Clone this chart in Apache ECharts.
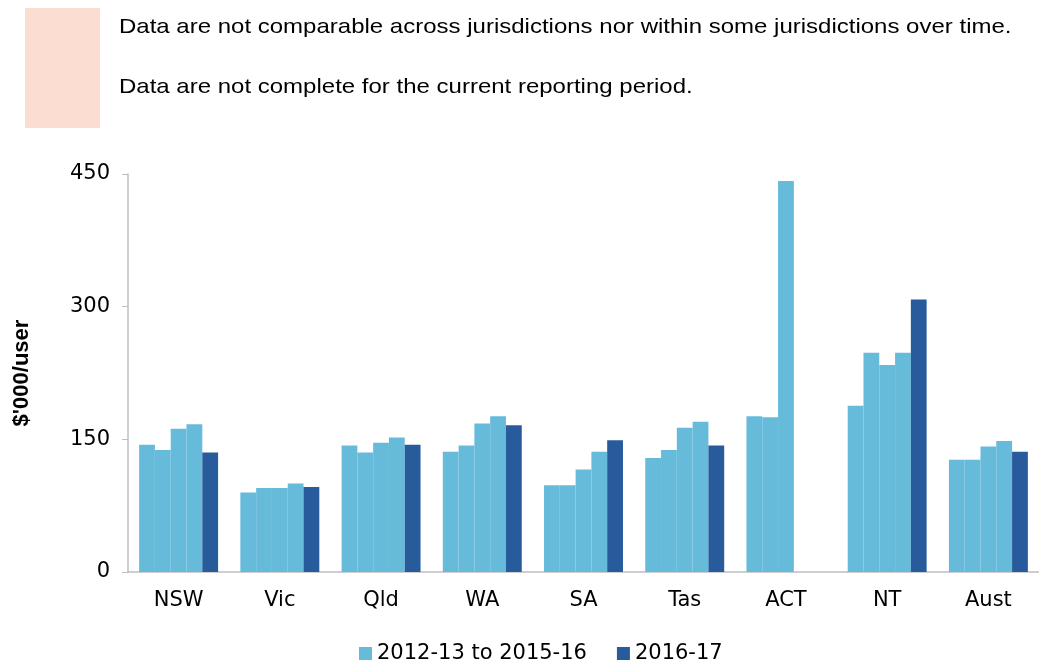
<!DOCTYPE html>
<html>
<head>
<meta charset="utf-8">
<script src="https://cdn.jsdelivr.net/npm/echarts@6/dist/echarts.min.js"></script>
<style>
  html, body { margin: 0; padding: 0; background: #fff; }
  #chart { width: 1039px; height: 663px; }
</style>
</head>
<body>
<div id="chart"></div>
<script>
// jurisdictions
const categories = ['NSW', 'Vic', 'Qld', 'WA', 'SA', 'Tas', 'ACT', 'NT', 'Aust'];
// $'000 per user, one array per year
const y2012 = [144, 90, 143, 136, 98, 129, 176, 188, 127];
const y2013 = [138, 95, 135, 143, 98, 138, 175, 248, 127];
const y2014 = [162, 95, 146, 168, 116, 163, 442, 234, 142];
const y2015 = [167, 100, 152, 176, 136, 170, null, 248, 148];
const y2016 = [135, 96, 144, 166, 149, 143, null, 308, 136];

const histName = '2012-13 to 2015-16';
const currName = '2016-17';
const notes = [
  'Data are not comparable across jurisdictions nor within some jurisdictions over time.',
  'Data are not complete for the current reporting period.'
];

const light = '#66bbdb';
const dark = '#275b9b';
const font = '"Liberation Sans", Arial, sans-serif';
const wide = '"DejaVu Sans", sans-serif';

function barSeries(name, data, color) {
  return {
    name: name,
    type: 'bar',
    data: data,
    barGap: 0,
    barCategoryGap: '22%',
    itemStyle: {color: color},
    emphasis: {disabled: true}
  };
}

let chart = echarts.init(document.getElementById('chart'), null, {renderer: 'canvas'});
chart.setOption({
  backgroundColor: '#fff',
  animation: false,
  textStyle: {fontFamily: font},
  graphic: [
    {type: 'rect', shape: {x: 25, y: 8, width: 75, height: 120}, style: {fill: '#fbddd2'}},
    // reference text is a bit stretched sideways
    {type: 'text', x: 119, y: 27, scaleX: 1.143, style: {text: notes[0], font: '21px ' + font, fill: '#000', textVerticalAlign: 'middle'}},
    {type: 'text', x: 119, y: 87, scaleX: 1.143, style: {text: notes[1], font: '21px ' + font, fill: '#000', textVerticalAlign: 'middle'}}
  ],
  grid: {left: 128, top: 174, width: 915, bottom: 91, containLabel: false},
  legend: {
    data: [histName, currName],
    left: 354,
    top: 638,
    itemWidth: 13,
    itemHeight: 13,
    itemGap: 30,
    icon: 'rect',
    textStyle: {fontSize: 21, color: '#000', fontFamily: wide}
  },
  xAxis: {
    type: 'category',
    data: categories,
    axisLine: {lineStyle: {color: '#bfbfbf', width: 1.5}},
    axisTick: {show: false},
    axisLabel: {fontSize: 21, color: '#000', margin: 18, fontFamily: wide}
  },
  yAxis: {
    type: 'value',
    min: 0,
    max: 450,
    interval: 150,
    name: "$'000/user",
    nameLocation: 'middle',
    nameGap: 95,
    nameTextStyle: {fontSize: 22, fontWeight: 'bold', color: '#000', fontFamily: font},
    splitLine: {show: false},
    axisLine: {show: true, lineStyle: {color: '#bfbfbf', width: 1.5}},
    axisTick: {show: true, length: 6, lineStyle: {color: '#bfbfbf'}},
    axisLabel: {fontSize: 21, color: '#000', margin: 18, fontFamily: wide}
  },
  series: [
    barSeries(histName, y2012, light),
    barSeries(histName, y2013, light),
    barSeries(histName, y2014, light),
    barSeries(histName, y2015, light),
    barSeries(currName, y2016, dark)
  ]
});
</script>
</body>
</html>
